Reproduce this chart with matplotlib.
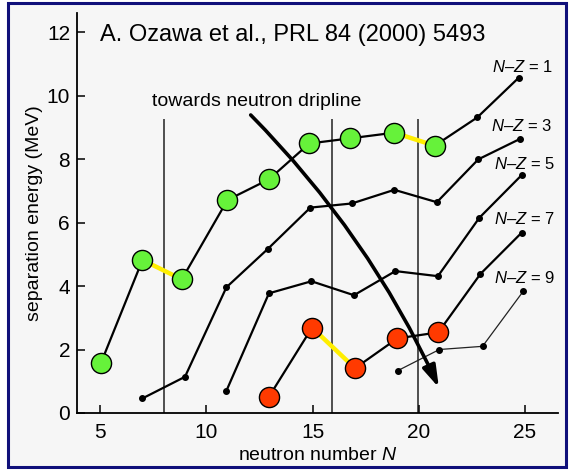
import matplotlib

matplotlib.use("Agg")
import matplotlib.pyplot as plt
from matplotlib.patches import FancyArrowPatch, Rectangle

plt.rcParams["font.family"] = ["Liberation Sans", "DejaVu Sans"]
plt.rcParams["mathtext.fontset"] = "custom"
plt.rcParams["mathtext.it"] = "Liberation Sans:italic"
plt.rcParams["mathtext.rm"] = "Liberation Sans"

# separation energies (MeV) vs neutron number
N1 = [5.05, 7.0, 8.85, 11.0, 12.95, 14.85, 16.75, 18.85, 20.75, 22.75, 24.7]
S1 = [1.58, 4.82, 4.21, 6.71, 7.36, 8.49, 8.65, 8.83, 8.42, 9.31, 10.56]
N3 = [7.0, 9.0, 10.95, 12.9, 14.9, 16.85, 18.85, 20.85, 22.8, 24.75]
S3 = [0.46, 1.14, 3.96, 5.17, 6.47, 6.6, 7.03, 6.64, 7.99, 8.63]
N5 = [10.95, 12.95, 14.95, 16.95, 18.9, 20.9, 22.85, 24.85]
S5 = [0.70, 3.77, 4.15, 3.71, 4.47, 4.31, 6.15, 7.50]
N7 = [12.95, 14.98, 17.0, 18.99, 20.92, 22.9, 24.84]
S7 = [0.51, 2.69, 1.41, 2.35, 2.54, 4.38, 5.68]
N9 = [19.0, 20.97, 23.0, 24.92]
S9 = [1.33, 2.0, 2.1, 3.84]

N_GREEN = 9  # first points of N-Z=1 drawn as green circles
N_RED = 5    # first points of N-Z=7 drawn as red circles
YELLOW = [(N1, S1, 1), (N1, S1, 7), (N7, S7, 1)]  # segment i -> i+1

SHELL_N = [8.0, 15.9, 19.95]
SHELL_TOP = 9.25

SERIES_LABELS = ["1", "3", "5", "7", "9"]
LABEL_N = [24.85, 24.85, 24.95, 24.95, 24.95]
LABEL_S = [10.9, 9.05, 7.85, 6.1, 4.25]

ARROW_START = (12.0, 9.45)
ARROW_END = (21.0, 0.72)

fig = plt.figure(figsize=(5.72, 4.70), dpi=100, facecolor="white")
fig.patches.append(Rectangle((8 / 572, 3 / 470), 558 / 572, 464 / 470,
                             transform=fig.transFigure, facecolor="#f6f6f6",
                             edgecolor="#10107a", linewidth=2.2, zorder=-1))
ax = fig.add_axes([77 / 572, 57 / 470, 481 / 572, 400 / 470])
ax.set_facecolor("none")
ax.set_xlim(3.92, 26.55)
ax.set_ylim(0, 12.6)
for side in ("top", "right"):
    ax.spines[side].set_visible(False)
for side in ("left", "bottom"):
    ax.spines[side].set_linewidth(1.3)
ax.set_xticks([5, 10, 15, 20, 25])
ax.set_yticks([0, 2, 4, 6, 8, 10, 12])
ax.tick_params(direction="in", length=6, width=1.1, labelsize=15)
ax.tick_params(axis="x", pad=7)
ax.tick_params(axis="y", pad=5)
ax.set_xlabel("neutron number $N$", fontsize=14, labelpad=4)
ax.set_ylabel("separation energy (MeV)", fontsize=14, labelpad=3)

ax.vlines(SHELL_N, 0, SHELL_TOP, color="#333333", lw=1.2, zorder=1)

line_kw = dict(color="black", lw=1.6, zorder=2)
dot_kw = dict(ls="none", marker="o", ms=4, color="black", zorder=3)
for n, s in [(N1, S1), (N3, S3), (N5, S5), (N7, S7)]:
    ax.plot(n, s, **line_kw)
ax.plot(N9, S9, color="#222222", lw=0.9, zorder=2)

ax.plot(N1[N_GREEN:], S1[N_GREEN:], **dot_kw)
ax.plot(N3, S3, **dot_kw)
ax.plot(N5, S5, **dot_kw)
ax.plot(N7[N_RED:], S7[N_RED:], **dot_kw)
ax.plot(N9, S9, **dot_kw)

for n, s, i in YELLOW:
    ax.plot(n[i:i + 2], s[i:i + 2], color="#ffee00", lw=3.2, zorder=4,
            solid_capstyle="butt")

ax.plot(N1[:N_GREEN], S1[:N_GREEN], ls="none", marker="o", ms=14.5,
        mfc="#66f23a", mec="black", mew=1.0, zorder=5)
ax.plot(N7[:N_RED], S7[:N_RED], ls="none", marker="o", ms=14.5,
        mfc="#ff3a00", mec="black", mew=1.0, zorder=5)

for lab, x, y in zip(SERIES_LABELS, LABEL_N, LABEL_S):
    ax.text(x, y, "$N$–$Z$ = " + lab, fontsize=12, ha="center", va="center")

ax.add_patch(FancyArrowPatch(ARROW_START, ARROW_END,
                             connectionstyle="arc3,rad=-0.09",
                             arrowstyle="-|>,head_length=13,head_width=4",
                             color="black", lw=2.6, zorder=6))

ax.text(7.45, 9.8, "towards neutron dripline", fontsize=14, va="center")
ax.text(5.0, 11.9, "A. Ozawa et al., PRL 84 (2000) 5493", fontsize=17,
        va="center")

fig.savefig("out.png", dpi=100)
